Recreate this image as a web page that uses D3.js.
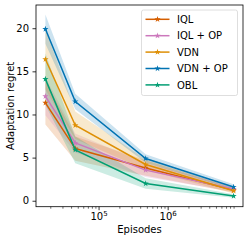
<!DOCTYPE html>
<html>
<head>
<meta charset="utf-8">
<script src="https://cdn.jsdelivr.net/npm/d3@7"></script>
<style>
  html, body { margin: 0; padding: 0; background: #fff; }
  svg { display: block; font-family: "DejaVu Sans", sans-serif; }
</style>
</head>
<body>
<svg id="chart" width="249" height="241"></svg>
<script>
const episodes = [17000, 46000, 480000, 9000000];
const seriesNames = ["IQL", "IQL + OP", "VDN", "VDN + OP", "OBL"];
const iqlMean   = [11.35, 6.05, 3.8, 1.25];
const iqlStd    = [2.5, 1.4, 0.9, 0.3];
const iqlOpMean = [12.1, 6.7, 3.55, 1.35];
const iqlOpStd  = [2.2, 1.1, 0.8, 0.3];
const vdnMean   = [16.4, 8.75, 4.2, 1.15];
const vdnStd    = [3.5, 1.6, 0.6, 0.3];
const vdnOpMean = [19.9, 11.5, 4.9, 1.6];
const vdnOpStd  = [1.7, 0.9, 0.5, 0.3];
const oblMean   = [14.1, 5.9, 2.0, 0.55];
const oblStd    = [3.0, 1.55, 0.6, 0.2];
const yTicks = [0, 5, 10, 15, 20];
const xTicks = [1e5, 1e6];
const colors = ["#d55e00", "#cc78bc", "#de8f05", "#0173b2", "#029e73"];

const series = [
  {name: seriesNames[0], mean: iqlMean, std: iqlStd, color: colors[0]},
  {name: seriesNames[1], mean: iqlOpMean, std: iqlOpStd, color: colors[1]},
  {name: seriesNames[2], mean: vdnMean, std: vdnStd, color: colors[2]},
  {name: seriesNames[3], mean: vdnOpMean, std: vdnOpStd, color: colors[3]},
  {name: seriesNames[4], mean: oblMean, std: oblStd, color: colors[4]},
];

const svg = d3.select("#chart");
const L = 36, R = 243, T = 5, B = 206.7;

// log-x with 5% margins (in log space)
const lx0 = Math.log10(d3.min(episodes)), lx1 = Math.log10(d3.max(episodes));
const mx = (lx1 - lx0) * 0.05;
const x = d3.scaleLog().domain([Math.pow(10, lx0 - mx), Math.pow(10, lx1 + mx)]).range([L, R]);
const y = d3.scaleLinear().domain([-0.69, 22.69]).range([B, T]);

const g = svg.append("g");
svg.append("clipPath").attr("id", "clip").append("rect")
  .attr("x", L).attr("y", T).attr("width", R - L).attr("height", B - T);

const plot = g.append("g").attr("clip-path", "url(#clip)");

// bands
series.forEach(s => {
  const pts = episodes.map((e, i) => ({e, lo: s.mean[i] - s.std[i], hi: s.mean[i] + s.std[i]}));
  plot.append("path")
    .attr("d", d3.area().x(d => x(d.e)).y0(d => y(d.lo)).y1(d => y(d.hi))(pts))
    .attr("fill", s.color).attr("fill-opacity", 0.2).attr("stroke", "none");
});
// lines + markers
const star = d3.symbol().type(d3.symbolStar).size(12);
series.forEach(s => {
  const pts = episodes.map((e, i) => ({e, v: s.mean[i]}));
  plot.append("path")
    .attr("d", d3.line().x(d => x(d.e)).y(d => y(d.v))(pts))
    .attr("fill", "none").attr("stroke", s.color).attr("stroke-width", 1.5);
  plot.selectAll(null).data(pts).enter().append("path")
    .attr("d", star)
    .attr("transform", d => `translate(${x(d.e)},${y(d.v)})`)
    .attr("fill", s.color);
});

// axes
const yAxis = d3.axisLeft(y).tickValues(yTicks).tickSize(3.5).tickPadding(3.5).tickFormat(d3.format("d"));
const ya = g.append("g").attr("transform", `translate(${L},0)`).call(yAxis);
ya.select(".domain").remove();
ya.selectAll("text").attr("font-size", 10).attr("fill", "#000").attr("font-family", "DejaVu Sans");
ya.selectAll("line").attr("stroke", "#000").attr("stroke-width", 0.8);

// minor ticks on log x
const minor = [];
const [d0, d1] = x.domain();
for (let p = Math.floor(Math.log10(d0)); p <= Math.ceil(Math.log10(d1)); p++) {
  for (let k = 2; k <= 9; k++) {
    const v = k * Math.pow(10, p);
    if (v >= d0 && v <= d1) minor.push(v);
  }
}
const xMinor = d3.axisBottom(x).tickValues(minor).tickSize(2).tickFormat("");
const xm = g.append("g").attr("transform", `translate(0,${B})`).call(xMinor);
xm.select(".domain").remove();
xm.selectAll("line").attr("stroke", "#000").attr("stroke-width", 0.6);

const xAxis = d3.axisBottom(x).tickValues(xTicks).tickSize(3.5).tickFormat("");
const xa = g.append("g").attr("transform", `translate(0,${B})`).call(xAxis);
xa.select(".domain").remove();
xa.selectAll("line").attr("stroke", "#000").attr("stroke-width", 0.8);
xa.selectAll(".tick").each(function(d) {
  const t = d3.select(this).append("text")
    .attr("y", 13.3).attr("text-anchor", "middle").attr("fill", "#000")
    .attr("font-size", 10).attr("font-family", "DejaVu Sans");
  t.append("tspan").text("10");
  t.append("tspan").attr("dy", -4).attr("font-size", 7).text(String(Math.round(Math.log10(d))));
});

// spines
g.append("rect").attr("x", L).attr("y", T).attr("width", R - L).attr("height", B - T)
  .attr("fill", "none").attr("stroke", "#000").attr("stroke-width", 0.8);

// axis labels
svg.append("text").attr("x", (L + R) / 2).attr("y", 232.5).attr("text-anchor", "middle")
  .attr("font-size", 10).attr("fill", "#000").text("Episodes");
svg.append("text").attr("transform", `translate(13.5,${(T + B) / 2}) rotate(-90)`)
  .attr("text-anchor", "middle").attr("font-size", 10).attr("fill", "#000").text("Adaptation regret");

// legend
const lg = svg.append("g");
lg.append("rect").attr("x", 141.5).attr("y", 10).attr("width", 96).attr("height", 85.5)
  .attr("rx", 2).attr("fill", "#fff").attr("fill-opacity", 0.8)
  .attr("stroke", "#d6d6d6").attr("stroke-width", 0.8);
series.forEach((s, i) => {
  const yy = 19.3 + i * 16.4;
  lg.append("line").attr("x1", 145.5).attr("x2", 169.5).attr("y1", yy).attr("y2", yy)
    .attr("stroke", s.color).attr("stroke-width", 1.5);
  lg.append("path").attr("d", star).attr("transform", `translate(157.5,${yy})`).attr("fill", s.color);
  lg.append("text").attr("x", 177).attr("y", yy + 3.6).attr("font-size", 10).attr("fill", "#000").text(s.name);
});
</script>
</body>
</html>
